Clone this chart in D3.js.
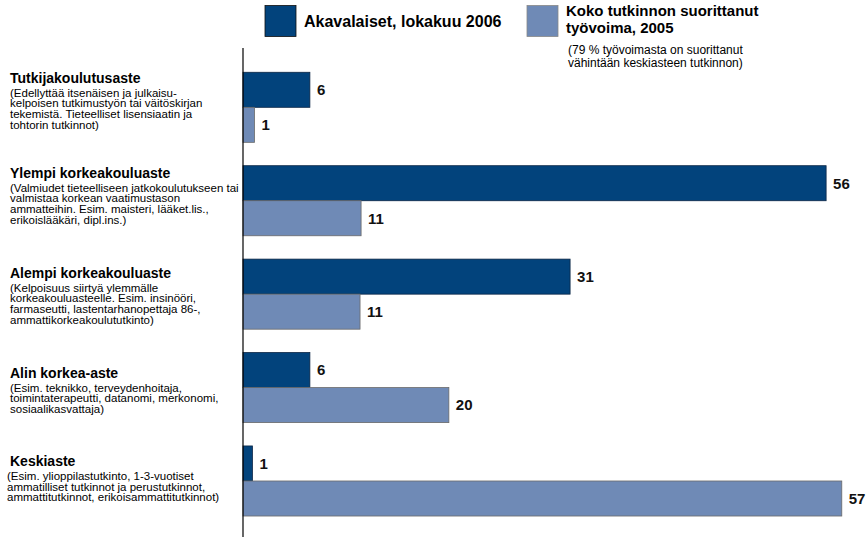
<!DOCTYPE html>
<html>
<head>
<meta charset="utf-8">
<script src="https://cdn.jsdelivr.net/npm/d3@7"></script>
<style>
  body { margin: 0; background: #fff; }
  svg { display: block; font-family: "Liberation Sans", Arial, sans-serif; }
</style>
</head>
<body>
<svg id="chart" width="866" height="538"></svg>
<script>
// ---- data ----
const categories = [
  "Tutkijakoulutusaste",
  "Ylempi korkeakouluaste",
  "Alempi korkeakouluaste",
  "Alin korkea-aste",
  "Keskiaste"
];
const descriptions = [
  ["(Edellyttää itsenäisen ja julkaisu-", "kelpoisen tutkimustyön tai väitöskirjan", "tekemistä. Tieteelliset lisensiaatin ja", "tohtorin tutkinnot)"],
  ["(Valmiudet tieteelliseen jatkokoulutukseen tai", "valmistaa korkean vaatimustason", "ammatteihin. Esim. maisteri, lääket.lis.,", "erikoislääkäri, dipl.ins.)"],
  ["(Kelpoisuus siirtyä ylemmälle", "korkeakouluasteelle. Esim. insinööri,", "farmaseutti, lastentarhanopettaja 86-,", "ammattikorkeakoulututkinto)"],
  ["(Esim. teknikko, terveydenhoitaja,", "toimintaterapeutti, datanomi, merkonomi,", "sosiaalikasvattaja)"],
  ["(Esim. ylioppilastutkinto, 1-3-vuotiset", "ammatilliset tutkinnot ja perustutkinnot,", "ammattitutkinnot, erikoisammattitutkinnot)"]
];
const seriesNames = ["Akavalaiset, lokakuu 2006", "Koko tutkinnon suorittanut työvoima, 2005"];
const akavalaiset = [6.4, 55.8, 31.3, 6.4, 0.9];
const tyovoima = [1.1, 11.3, 11.2, 19.7, 57.3];
const legendNote = ["(79 % työvoimasta on suorittanut", "vähintään keskiasteen tutkinnon)"];

// ---- layout ----
const colors = ["#02437c", "#6f8ab6"];
const strokes = ["#0b2545", "#6a6a6a"];
const titleOffsets = [11, 12.5, 19, 25.5, 20.5]; // title baseline relative to group top

const svg = d3.select("#chart");
const x = d3.scaleLinear().domain([0, 60]).range([243, 870]);
const y = d3.scaleBand().domain(categories).range([60.6, 527.7]).paddingInner(0.25).paddingOuter(0.125);
const ySub = d3.scaleBand().domain([0, 1]).range([0, y.bandwidth()]);

const rows = categories.map((c, i) => ({c, i, vals: [akavalaiset[i], tyovoima[i]]}));

const g = svg.append("g");
const groups = g.selectAll("g.grp").data(rows).join("g")
  .attr("transform", d => `translate(0,${y(d.c)})`);

groups.selectAll("rect").data(d => d.vals.map((v, s) => ({v, s}))).join("rect")
  .attr("x", x(0))
  .attr("y", d => ySub(d.s))
  .attr("width", d => x(d.v) - x(0))
  .attr("height", ySub.bandwidth())
  .attr("fill", d => colors[d.s])
  .attr("stroke", d => strokes[d.s])
  .attr("stroke-width", 0.8);

groups.selectAll("text.val").data(d => d.vals.map((v, s) => ({v, s}))).join("text")
  .attr("class", "val")
  .attr("x", d => x(d.v) + 7)
  .attr("y", d => ySub(d.s) + ySub.bandwidth() / 2)
  .attr("dy", "0.36em")
  .attr("font-size", 15)
  .attr("font-weight", "bold")
  .attr("fill", "#111")
  .text(d => d3.format(".0f")(d.v));

// category labels
const lab = groups.append("g");
lab.append("text")
  .attr("x", 10)
  .attr("y", d => titleOffsets[d.i])
  .attr("font-size", 14)
  .attr("font-weight", "bold")
  .attr("fill", "#000")
  .text(d => d.c);
lab.each(function(d) {
  d3.select(this).selectAll("text.desc").data(descriptions[d.i]).join("text")
    .attr("class", "desc")
    .attr("x", d.i === 4 ? 7 : 10)
    .attr("y", (t, k) => titleOffsets[d.i] + 13.5 + k * 10.7)
    .attr("font-size", 11.5)
    .attr("fill", "#000")
    .text(t => t);
});

// axis line
svg.append("line")
  .attr("x1", x(0)).attr("x2", x(0))
  .attr("y1", 48).attr("y2", 537)
  .attr("stroke", "#000").attr("stroke-width", 1.2);

// legend
const leg = svg.append("g");
leg.append("rect").attr("x", 265).attr("y", 5.5).attr("width", 31).attr("height", 31)
  .attr("fill", colors[0]).attr("stroke", "#111").attr("stroke-width", 0.8);
leg.append("text").attr("x", 304).attr("y", 27).attr("font-size", 16).attr("font-weight", "bold")
  .text(seriesNames[0]);
leg.append("rect").attr("x", 527).attr("y", 5.5).attr("width", 31).attr("height", 31)
  .attr("fill", colors[1]).attr("stroke", "#888").attr("stroke-width", 0.8);
const n2 = seriesNames[1].split(" ");
leg.append("text").attr("x", 566).attr("y", 16).attr("font-size", 15).attr("font-weight", "bold")
  .text(n2.slice(0, 3).join(" "));
leg.append("text").attr("x", 566).attr("y", 33).attr("font-size", 15).attr("font-weight", "bold")
  .text(n2.slice(3).join(" "));
leg.selectAll("text.note").data(legendNote).join("text").attr("class", "note")
  .attr("x", 568).attr("y", (t, k) => 54 + k * 13)
  .attr("font-size", 12)
  .text(t => t);
</script>
</body>
</html>
